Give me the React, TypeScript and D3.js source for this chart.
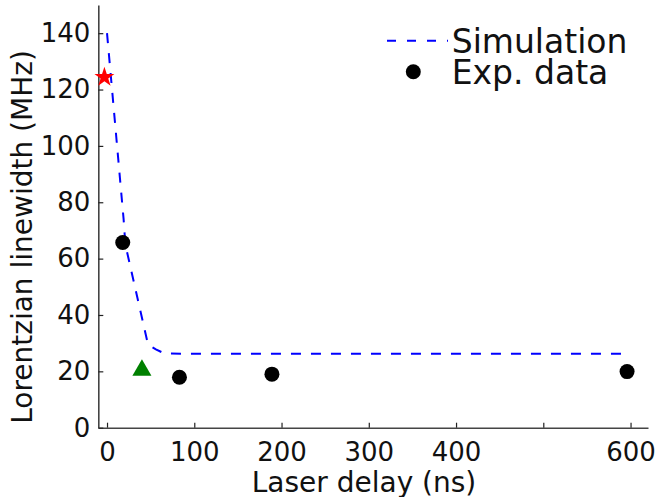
import React, { useRef, useEffect } from 'react';
import * as d3 from 'd3';

// Simulated linewidth vs laser delay (ns, MHz)
const simDelay = [0, 19, 21, 47, 56, 66, 200, 400, 600];
const simWidth = [140, 74, 65, 29.5, 27.8, 26.3, 26.2, 26.2, 26.2];

// Experimental points
const expDelay = [18, 83, 189, 596];
const expWidth = [65.7, 17.9, 19, 19.9];

// Highlighted points
const starPoint = { delay: -3, width: 124.4 };
const trianglePoint = { delay: 40, width: 20.4 };

const xTicks = [0, 100, 200, 300, 400, 500, 600];
const xTickLabels = ['0', '100', '200', '300', '400', '', '600'];
const yTicks = [0, 20, 40, 60, 80, 100, 120, 140];

const legendLabels = ['Simulation', 'Exp. data'];

const App = () => {
  const ref = useRef<SVGSVGElement>(null);

  useEffect(() => {
    const svg = d3.select(ref.current);
    svg.selectAll('*').remove();

    const font = 'DejaVu Sans, Verdana, sans-serif';
    const axisColor = '#444';

    const x = d3.scaleLinear().domain([-10, 620]).range([98.3, 648]);
    const y = d3.scaleLinear().domain([0, 150]).range([427.7, 5]);

    // x axis, ticks pointing inward
    const gx = svg.append('g')
      .attr('transform', `translate(0,${y(0)})`)
      .call(
        d3.axisBottom(x)
          .tickValues(xTicks)
          .tickFormat((d, i) => xTickLabels[i])
          .tickSizeInner(-5)
          .tickSizeOuter(0)
          .tickPadding(15)
      );

    // y axis
    const gy = svg.append('g')
      .attr('transform', `translate(${x(-10)},0)`)
      .call(
        d3.axisLeft(y)
          .tickValues(yTicks)
          .tickSizeInner(-5)
          .tickSizeOuter(0)
          .tickPadding(8)
      );

    [gx, gy].forEach(g => {
      g.select('.domain').attr('stroke', axisColor).attr('stroke-width', 1.6);
      g.selectAll('.tick line').attr('stroke', '#222').attr('stroke-width', 1.2);
      g.selectAll('.tick text')
        .attr('fill', '#111')
        .style('font-family', font)
        .style('font-size', '26px');
    });

    // axis titles
    svg.append('text')
      .attr('x', 364)
      .attr('y', 491.7)
      .attr('text-anchor', 'middle')
      .style('font-family', font)
      .style('font-size', '28px')
      .attr('fill', '#111')
      .text('Laser delay (ns)');

    svg.append('text')
      .attr('transform', 'translate(32,237) rotate(-90)')
      .attr('text-anchor', 'middle')
      .style('font-family', font)
      .style('font-size', '28px')
      .attr('fill', '#111')
      .text('Lorentzian linewidth (MHz)');

    // simulation dashed line
    const line = d3.line<number>()
      .x((d, i) => x(simDelay[i]))
      .y(d => y(d));

    svg.append('path')
      .datum(simWidth)
      .attr('d', line)
      .attr('fill', 'none')
      .attr('stroke', '#0000ff')
      .attr('stroke-width', 2)
      .attr('stroke-dasharray', '10,10');

    // experimental data
    svg.selectAll('circle.exp')
      .data(expWidth)
      .join('circle')
      .attr('class', 'exp')
      .attr('cx', (d, i) => x(expDelay[i]))
      .attr('cy', d => y(d))
      .attr('r', 7.5)
      .attr('fill', '#000');

    // red star
    svg.append('path')
      .attr('d', d3.symbol().type(d3.symbolStar).size(124)())
      .attr('transform', `translate(${x(starPoint.delay)},${y(starPoint.width)})`)
      .attr('fill', '#ff0000');

    // green triangle
    svg.append('path')
      .attr('d', d3.symbol().type(d3.symbolTriangle).size(157)())
      .attr('transform', `translate(${x(trianglePoint.delay)},${y(trianglePoint.width)})`)
      .attr('fill', '#008000');

    // legend
    const legend = svg.append('g');
    legend.append('line')
      .attr('x1', 387).attr('x2', 448)
      .attr('y1', 40.7).attr('y2', 40.7)
      .attr('stroke', '#0000ff')
      .attr('stroke-width', 2)
      .attr('stroke-dasharray', '9,11');
    legend.append('circle')
      .attr('cx', 413.3).attr('cy', 71.7)
      .attr('r', 7.5)
      .attr('fill', '#000');
    legend.selectAll('text')
      .data(legendLabels)
      .join('text')
      .attr('x', 451.7)
      .attr('y', (d, i) => 53.3 + i * 31)
      .style('font-family', font)
      .style('font-size', '33px')
      .attr('fill', '#111')
      .text(d => d);
  }, []);

  return (
    <svg
      ref={ref}
      width={658}
      height={497}
      style={{ position: 'absolute', left: 0, top: 0, background: '#fff' }}
    />
  );
};

export default App;
